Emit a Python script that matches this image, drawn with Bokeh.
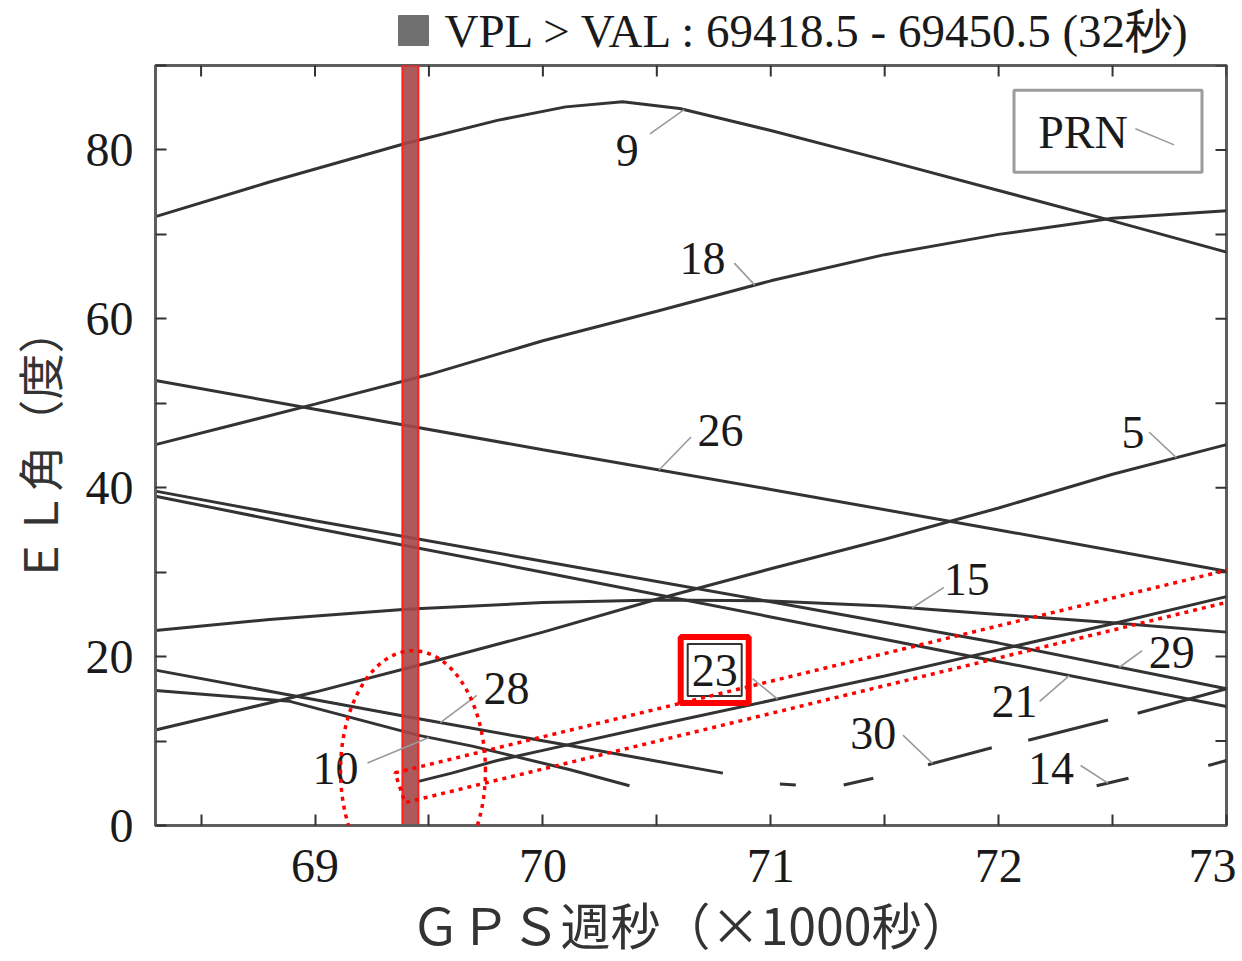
import numpy as np
from bokeh.plotting import figure
from bokeh.layouts import column
from bokeh.models import Range1d, FixedTicker, Label, PolyAnnotation, ColumnDataSource
from bokeh.core.properties import value
from bokeh.embed import file_html
from bokeh.resources import INLINE

nan = float("nan")

# ---- data (x in 1000 s of GPS week, y = elevation in degrees) ----
prn9_x = [68.3, 68.8, 69.4, 69.8, 70.1, 70.35, 70.6, 71.0, 71.5, 72.0, 72.5, 73.0]
prn9_y = [72.1, 76.2, 80.8, 83.5, 85.1, 85.7, 84.9, 82.3, 78.8, 75.2, 71.6, 67.9]
prn18_x = [68.3, 69.0, 69.5, 70.0, 70.5, 71.0, 71.5, 72.0, 72.5, 73.0]
prn18_y = [45.1, 49.9, 53.4, 57.4, 60.9, 64.5, 67.6, 70.0, 71.9, 72.8]
prn26_x = [68.3, 69.0, 70.0, 71.0, 72.0, 73.0]
prn26_y = [52.7, 49.3, 44.5, 39.8, 35.0, 30.1]
prn5_x = [68.3, 69.0, 69.5, 70.0, 70.5, 71.0, 71.5, 72.0, 72.5, 73.0]
prn5_y = [11.3, 15.8, 19.3, 22.9, 26.8, 30.4, 33.9, 37.6, 41.6, 45.1]
prn15_x = [68.3, 68.8, 69.4, 70.0, 70.5, 71.0, 71.5, 72.0, 72.5, 73.0]
prn15_y = [23.1, 24.4, 25.6, 26.4, 26.7, 26.6, 26.0, 25.0, 24.0, 22.9]
prn29_x = [68.3, 69.0, 70.0, 71.0, 72.0, 73.0]
prn29_y = [39.6, 36.1, 31.3, 26.5, 21.6, 16.2]
prn21_x = [68.3, 69.0, 70.0, 71.0, 72.0, 73.0]
prn21_y = [39.0, 35.2, 30.0, 24.7, 19.4, 14.1]
prn28_x = [68.3, 68.9, 69.4, 69.9, 70.4, 70.79]
prn28_y = [18.4, 15.4, 12.9, 10.5, 8.1, 6.2]
prn10_x = [68.3, 68.89, 69.45, 69.69, 70.12, 70.38, nan, 71.04, 71.11]
prn10_y = [16.0, 14.7, 10.7, 9.4, 6.6, 4.7, nan, 4.9, 4.8]
prn23_x = [69.45, 69.6, 69.8, 70.0, 70.5, 71.0, 71.5, 72.0, 72.5, 73.0]
prn23_y = [5.2, 6.2, 7.7, 8.9, 11.9, 14.8, 17.7, 20.8, 23.9, 27.1]
prn30_x = [71.32, 71.45, nan, 71.69, 71.97, nan, 72.13, 72.48, nan, 72.61, 73.0]
prn30_y = [4.8, 5.6, nan, 7.2, 9.2, nan, 10.1, 12.5, nan, 13.3, 16.2]
prn14_x = [72.43, 72.57, nan, 72.92, 73.0]
prn14_y = [4.7, 5.6, nan, 7.1, 7.7]

vpl_start = 69418.5
vpl_end = 69450.5
x_ticks = [69, 70, 71, 72, 73]
x_minor = [68.5, 69.5, 70.5, 71.5, 72.5]
y_ticks = [0, 20, 40, 60, 80]
y_minor = [10, 30, 50, 70, 90]

series = {
    "9": (prn9_x, prn9_y), "18": (prn18_x, prn18_y), "26": (prn26_x, prn26_y),
    "5": (prn5_x, prn5_y), "15": (prn15_x, prn15_y), "29": (prn29_x, prn29_y),
    "21": (prn21_x, prn21_y), "28": (prn28_x, prn28_y), "10": (prn10_x, prn10_y),
    "23": (prn23_x, prn23_y), "30": (prn30_x, prn30_y), "14": (prn14_x, prn14_y),
}

# ---- annotation layout: text position, leader start, leader x on the curve ----
label_layout = {
    "9": ((70.37, 79.9), (70.47, 81.9), 70.62),
    "18": ((70.70, 67.1), (70.84, 66.6), 70.93),
    "26": ((70.78, 46.8), (70.65, 46.0), 70.51),
    "5": ((72.59, 46.5), (72.66, 46.6), 72.78),
    "15": ((71.86, 29.1), (71.76, 28.2), 71.62),
    "29": ((72.76, 20.5), (72.63, 20.7), 72.53),
    "21": ((72.07, 14.7), (72.18, 14.7), 72.31),
    "23": ((70.754, 18.4), (70.92, 17.4), 71.03),
    "30": ((71.45, 10.9), (71.58, 10.7), 71.71),
    "14": ((72.23, 6.8), (72.36, 7.1), 72.48),
    "28": ((69.84, 16.2), (69.71, 15.4), 69.55),
    "10": ((69.09, 6.8), (69.23, 7.4), 69.50),
}

SERIF = "Liberation Serif"
CJK = "Noto Sans CJK JP"
LINE = "#333333"
FRAME = "#5e5e5e"
W = 1236
FRAME_L = 155
FRAME_R = 1226

# ---------------- header strip (its frame is aligned with the main frame) ----------------
hdr = figure(width=W, height=57, x_range=Range1d(FRAME_L, FRAME_R), y_range=Range1d(0, 57),
             output_backend="svg", toolbar_location=None, x_axis_type=None, y_axis_type=None,
             min_border_left=FRAME_L, min_border_right=W - FRAME_R, min_border_top=0,
             min_border_bottom=0)
hdr.outline_line_color = None
hdr.xgrid.visible = False
hdr.ygrid.visible = False
hdr.rect(x=[413], y=[27], width=30, height=30, fill_color="#707070", line_color="#707070")
hdr.text(x=[444], y=[27], text=["VPL > VAL : 69418.5 - 69450.5 (32秒)"], text_font=value(SERIF),
         text_font_size="47px", text_color="#1a1a1a", text_align="left", text_baseline="middle")

# ---------------- main plot ----------------
p = figure(width=W, height=904, x_range=Range1d(68.3, 73.0), y_range=Range1d(0, 90),
           output_backend="svg", toolbar_location=None,
           min_border_left=FRAME_L, min_border_right=W - FRAME_R, min_border_top=8,
           min_border_bottom=132)
p.background_fill_color = "white"
p.border_fill_color = "white"
p.outline_line_color = FRAME
p.outline_line_width = 3
p.xgrid.visible = False
p.ygrid.visible = False

for ax, ticks, minor in ((p.xaxis[0], x_ticks, x_minor), (p.yaxis[0], y_ticks, y_minor)):
    ax.ticker = FixedTicker(ticks=ticks, minor_ticks=minor)
    ax.axis_line_color = FRAME
    ax.axis_line_width = 3
    ax.major_tick_in = 11
    ax.major_tick_out = 0
    ax.minor_tick_in = 11
    ax.minor_tick_out = 0
    ax.major_tick_line_color = "#333333"
    ax.major_tick_line_width = 2
    ax.minor_tick_line_color = "#333333"
    ax.minor_tick_line_width = 2
    ax.major_label_text_font = SERIF
    ax.major_label_text_font_size = "48px"
    ax.major_label_text_color = "#1a1a1a"
    ax.axis_label_text_font = CJK
    ax.axis_label_text_font_style = "normal"
    ax.axis_label_text_color = "#333333"

p.xaxis[0].major_label_standoff = 24
p.yaxis[0].major_label_standoff = 22
p.xaxis[0].axis_label = "ＧＰＳ週秒（×1000秒）"
p.yaxis[0].axis_label = "ＥＬ角（度）"
p.xaxis[0].axis_label_text_font_size = "50px"
p.yaxis[0].axis_label_text_font_size = "46px"
p.xaxis[0].axis_label_standoff = 2
p.yaxis[0].axis_label_standoff = 12

# mirrored inward ticks on the top and right edges (half of each dash is clipped by the frame)
top_ticks = x_ticks + x_minor
p.scatter(x=top_ticks, y=[p.y_range.end] * len(top_ticks), marker="dash", size=22,
          angle=np.pi / 2, line_color="#333333", line_width=2)
right_ticks = y_ticks + y_minor
p.scatter(x=[p.x_range.end] * len(right_ticks), y=right_ticks, marker="dash", size=22,
          line_color="#333333", line_width=2)

# ---- satellite elevation lines ----
for name, (xs, ys) in series.items():
    p.line(xs, ys, line_color=LINE, line_width=3)

# ---- VPL > VAL period band ----
p.rect(x=[vpl_start / 1000.0], y=[45], width=16, width_units="screen", height=90,
       fill_color="#a44848", fill_alpha=0.9, line_color="#ff2020", line_width=2)

# ---- leader lines and PRN labels ----
def curve_y(xs, ys, x):
    xa = np.array(xs, dtype=float)
    ya = np.array(ys, dtype=float)
    ok = ~np.isnan(xa)
    return float(np.interp(x, xa[ok], ya[ok]))

lx0, ly0, lx1, ly1, tx, ty, tt = [], [], [], [], [], [], []
for name, ((txp, typ), (sx, sy), ex) in label_layout.items():
    xs, ys = series[name]
    lx0.append(sx); ly0.append(sy)
    lx1.append(ex); ly1.append(curve_y(xs, ys, ex))
    tx.append(txp); ty.append(typ); tt.append(name)
p.segment(x0=lx0, y0=ly0, x1=lx1, y1=ly1, line_color="#9a9a9a", line_width=1.6)

# box around 23
i23 = tt.index("23")
p.rect(x=[tx[i23]], y=[ty[i23]], width=54, height=52, width_units="screen", height_units="screen",
       fill_color="white", line_color="#333333", line_width=2)
p.rect(x=[tx[i23]], y=[ty[i23]], width=68, height=66, width_units="screen", height_units="screen",
       fill_color=None, line_color="#ff0000", line_width=6)

src = ColumnDataSource(dict(x=tx, y=ty, t=tt))
p.text(x="x", y="y", text="t", source=src, text_font=value(SERIF), text_font_size="46px",
       text_color="#1a1a1a", text_align="center", text_baseline="middle")

# ---- PRN key box ----
p.rect(x=[72.48], y=[82.2], width=188, height=82, width_units="screen", height_units="screen",
       fill_color="white", line_color="#9c9c9c", line_width=3)
p.add_layout(Label(x=72.37, y=82.1, text="PRN", text_font=SERIF, text_font_size="46px",
                   text_color="#1a1a1a", text_align="center", text_baseline="middle"))
p.segment(x0=[72.60], y0=[82.5], x1=[72.77], y1=[80.6], line_color="#9a9a9a", line_width=1.6)

# ---- red dotted highlight: ellipse and band ----
t = np.linspace(0, 2 * np.pi, 160)
ell_x = 69.43 + 0.318 * np.cos(t)
ell_y = 6.5 + 14.2 * np.sin(t)
p.add_layout(PolyAnnotation(xs=list(ell_x), ys=list(ell_y), fill_color=None, fill_alpha=0,
                            line_color="#ff0000", line_alpha=1.0, line_width=3.5, line_dash="4 5"))
p.add_layout(PolyAnnotation(xs=[69.351, 73.057, 73.057, 69.395], ys=[6.24, 30.6, 26.8, 2.71],
                            fill_color=None, fill_alpha=0, line_color="#ff0000", line_alpha=1.0,
                            line_width=3.5, line_dash="4 5"))

layout = column(hdr, p, spacing=0)
open("out.html", "w").write(file_html(layout, INLINE))
